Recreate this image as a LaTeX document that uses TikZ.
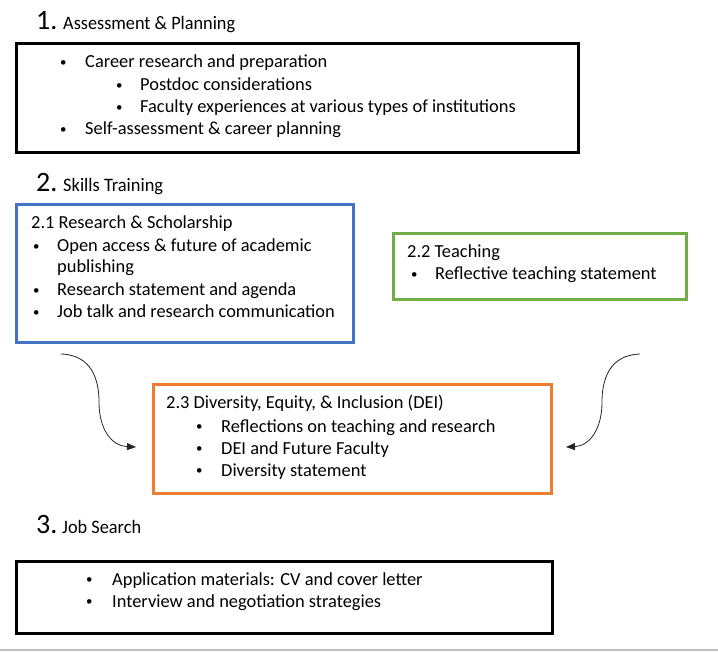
\documentclass[tikz,border=0pt]{standalone}
\usepackage{fontspec}
\usepackage{graphicx}
\setmainfont{Carlito}
\usetikzlibrary{arrows.meta}
\definecolor{cblue}{HTML}{4472C4}
\definecolor{cgreen}{HTML}{70AD47}
\definecolor{corange}{HTML}{ED7D31}
\begin{document}
\begin{tikzpicture}[x=1pt,y=-1pt,
  frame/.style={rectangle, draw, line width=3pt, inner sep=0pt},
  txt/.style={anchor=base west, inner sep=0pt, font=\fontsize{18.4}{20}\selectfont},
  num/.style={anchor=base west, inner sep=0pt, font=\fontsize{28}{28}\selectfont},
  hd/.style={anchor=base west, inner sep=0pt},
  curv/.style={line width=0.8pt, draw=black!85, -{Triangle[length=9pt,width=7pt]}}
]
\useasboundingbox (0,0) rectangle (718,652);
\fill[white] (0,0) rectangle (718,652);
\newcommand{\bl}[1]{\makebox[#1][l]{\raisebox{1.2pt}{\scalebox{0.7}{•}}}}
\newcommand{\hdtext}[2]{\resizebox{#1}{\height}{\fontsize{19}{19}\selectfont #2}}

% ---- 1
\node[num] (n1) at (36,30) {1.};
\node[hd] (h1) at (63,30) {\hdtext{172pt}{Assessment \& Planning}};
\node[frame, minimum width=562pt, minimum height=109pt] (b1) at (297,98.5) {};
\node[txt] (t11) at (60,68) {\bl{25pt}Career research and preparation};
\node[txt] (t12) at (116,91) {\bl{24pt}Postdoc considerations};
\node[txt] (t13) at (116,113) {\bl{24pt}Faculty experiences at various types of institutions};
\node[txt] (t14) at (60,135) {\bl{25pt}Self-assessment \& career planning};

% ---- 2
\node[num] (n2) at (36,191.5) {2.};
\node[hd] (h2) at (63,191.5) {\hdtext{100pt}{Skills Training}};

\node[frame, draw=cblue, minimum width=337pt, minimum height=138pt] (b21) at (184.5,274) {};
\node[txt] (t21) at (31,229) {2.1 Research \& Scholarship};
\node[txt] (t22) at (33,252) {\bl{24pt}Open access \& future of academic};
\node[txt] (t23) at (57,273) {publishing};
\node[txt] (t24) at (33,296) {\bl{24pt}Research statement and agenda};
\node[txt] (t25) at (33,318) {\bl{24pt}Job talk and research communication};

\node[frame, draw=cgreen, minimum width=293pt, minimum height=66pt] (b22) at (539.5,267) {};
\node[txt] (t26) at (407,258) {2.2 Teaching};
\node[txt] (t27) at (411,280) {\bl{24pt}Reflective teaching statement};

\node[frame, draw=corange, minimum width=398pt, minimum height=108pt] (b23) at (352,439) {};
\node[txt] (t31) at (166,409) {2.3 Diversity, Equity, \& Inclusion (DEI)};
\node[txt] (t32) at (196,432) {\bl{25pt}Reflections on teaching and research};
\node[txt] (t33) at (196,454) {\bl{25pt}DEI and Future Faculty};
\node[txt] (t34) at (196,476) {\bl{25pt}Diversity statement};

\coordinate (l0) at (61,354);
\coordinate (l1) at (136,447);
\coordinate (r0) at (640,354);
\coordinate (r1) at (566,447);
\draw[curv] (l0) .. controls (92,355) and (99,380) .. (99,402) .. controls (99,430) and (112,446) .. (l1);
\draw[curv] (r0) .. controls (609,355) and (602,380) .. (602,402) .. controls (602,430) and (589,446) .. (r1);

% ---- 3
\node[num] (n3) at (36,533) {3.};
\node[hd] (h3) at (62,533) {\hdtext{79pt}{Job Search}};
\node[frame, minimum width=536pt, minimum height=72pt] (b3) at (284,597) {};
\node[txt] (t41) at (86,585) {\bl{26pt}Application materials: CV and cover letter};
\node[txt] (t42) at (86,607) {\bl{26pt}Interview and negotiation strategies};

\draw[black!25, line width=2pt] (0,650) -- (718,650);
\end{tikzpicture}
\end{document}
